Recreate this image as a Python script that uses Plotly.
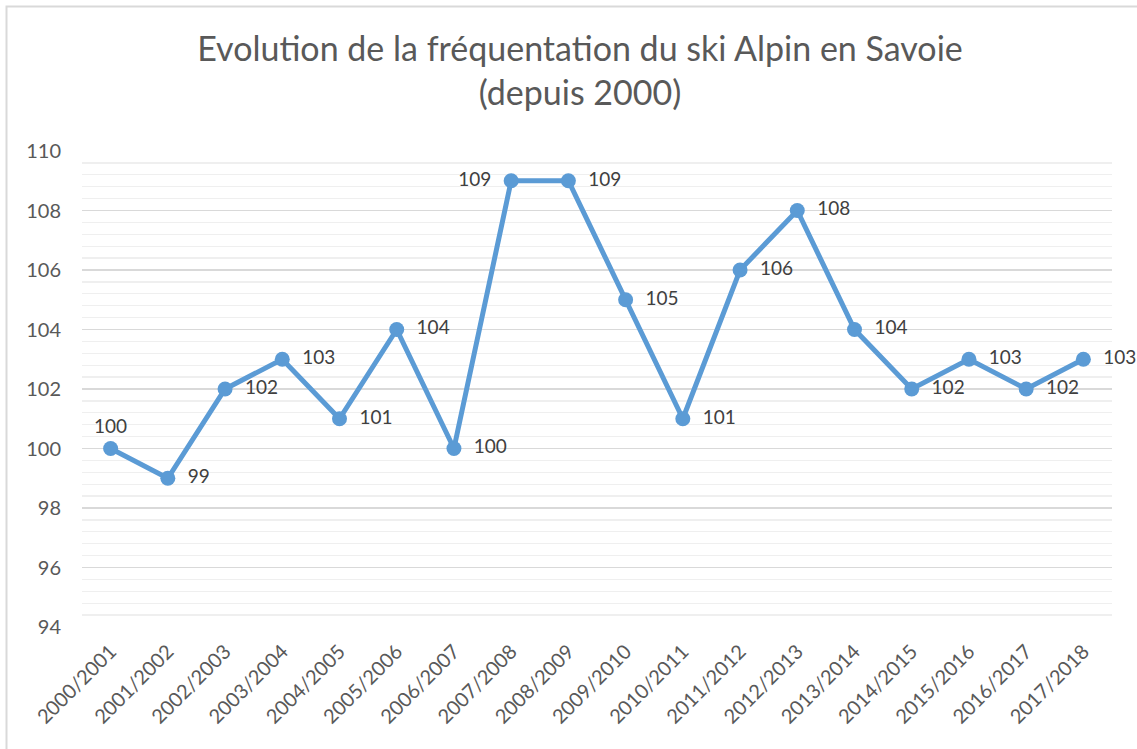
import plotly.graph_objects as go

seasons = ["2000/2001", "2001/2002", "2002/2003", "2003/2004", "2004/2005", "2005/2006",
           "2006/2007", "2007/2008", "2008/2009", "2009/2010", "2010/2011", "2011/2012",
           "2012/2013", "2013/2014", "2014/2015", "2015/2016", "2016/2017", "2017/2018"]
values = [100, 99, 102, 103, 101, 104, 100, 109, 109, 105, 101, 106, 108, 104, 102, 103, 102, 103]
label_pos = ["top center"] + ["middle right"] * 6 + ["middle left"] + ["middle right"] * 10

W, H = 1137, 749
L, R, T, B = 82, 1137 - 1112, 151, 749 - 627
FONT = "Lato, 'Open Sans', sans-serif"
GREY = "#595959"

labels = []
for v, p in zip(values, label_pos):
    if p == "middle right":
        labels.append("\u2002" + str(v))
    elif p == "middle left":
        labels.append(str(v) + "\u2002")
    else:
        labels.append(str(v))

fig = go.Figure()
fig.add_trace(go.Scatter(
    x=seasons, y=values, mode="lines+markers+text",
    line=dict(color="#5B9BD5", width=5),
    marker=dict(color="#5B9BD5", size=15),
    text=labels, textposition=label_pos,
    textfont=dict(family=FONT, size=19, color="#404040"),
    cliponaxis=False, hoverinfo="skip",
))

pw, ph = W - L - R, H - T - B
fig.add_shape(type="rect", xref="paper", yref="paper",
              x0=(6.5 - L) / pw, x1=(W + 10 - L) / pw,
              y0=(H - B - (H + 10)) / ph, y1=(H - B - 6.5) / ph,
              line=dict(color="#d9d9d9", width=2), layer="below")

fig.update_layout(
    width=W, height=H,
    margin=dict(l=L, r=R, t=T, b=B, autoexpand=False),
    paper_bgcolor="white", plot_bgcolor="white",
    showlegend=False,
    title=dict(text="Evolution de la fréquentation du ski Alpin en Savoie<br>(depuis 2000)",
               x=580 / W, xanchor="center", y=1 - 61 / H, yanchor="top",
               font=dict(family=FONT, size=34, color=GREY)),
    xaxis=dict(type="category", range=[-0.5, len(seasons) - 0.5],
               showgrid=False, showline=False, zeroline=False,
               tickangle=-45, ticks="", automargin=False,
               ticklabelstandoff=8,
               tickfont=dict(family=FONT, size=20, color=GREY)),
    yaxis=dict(range=[94, 110], dtick=2, tick0=94,
               showgrid=True, gridcolor="#d9d9d9", gridwidth=1.3,
               zeroline=False, showline=False, ticks="", automargin=False,
               tickfont=dict(family=FONT, size=20, color=GREY),
               ticklabelstandoff=20,
               minor=dict(dtick=0.4, tick0=94, showgrid=True, gridcolor="#efefef", gridwidth=1.3)),
)

fig.write_html("out.html",
               config={"displayModeBar": False, "staticPlot": True},
               post_script="document.body.style.margin='0';document.body.style.overflow='hidden';")
